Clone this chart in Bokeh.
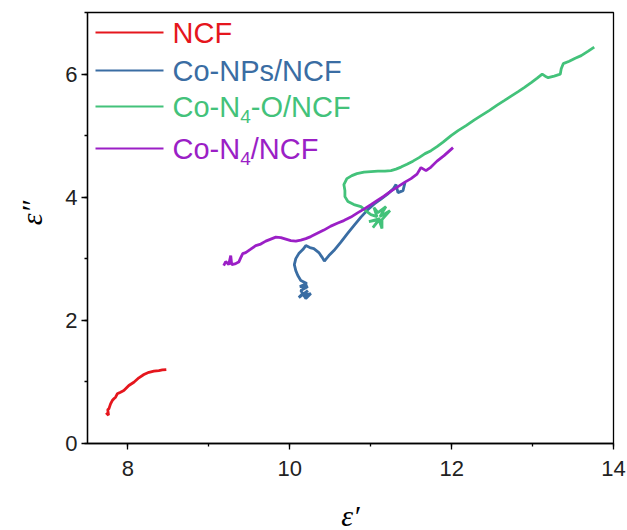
from bokeh.plotting import figure
from bokeh.models import Range1d, SingleIntervalTicker
from bokeh.core.properties import value
from bokeh.embed import file_html
from bokeh.resources import INLINE

# ---- data: complex permittivity (Cole-Cole style) traces ----
ncf_re = [7.73, 7.76, 7.75, 7.764, 7.785, 7.806, 7.826, 7.847, 7.868, 7.908, 7.949,
          8.011, 8.073, 8.135, 8.197, 8.259, 8.321, 8.382, 8.425, 8.474]
ncf_im = [0.50, 0.46, 0.55, 0.563, 0.644, 0.698, 0.726, 0.752, 0.807, 0.833, 0.860,
          0.942, 0.995, 1.067, 1.120, 1.157, 1.174, 1.185, 1.196, 1.201]

conp_re = [10.173, 10.111, 10.223, 10.161, 10.260, 10.198, 10.136, 10.223, 10.124, 10.210,
           10.136, 10.099, 10.074, 10.056, 10.074,
           10.111, 10.161, 10.198, 10.248, 10.297, 10.359, 10.402, 10.427, 10.452, 10.483,
           10.545, 10.631, 10.712, 10.792, 10.879, 10.959, 11.040, 11.126, 11.207, 11.275,
           11.312, 11.337, 11.399, 11.423]
conp_im = [2.451, 2.370, 2.484, 2.403, 2.436, 2.355, 2.485, 2.549, 2.549, 2.597,
           2.646, 2.727, 2.808, 2.906, 3.003,
           3.084, 3.149, 3.214, 3.182, 3.166, 3.101, 3.019, 2.963, 3.003, 3.052,
           3.133, 3.271, 3.409, 3.539, 3.677, 3.791, 3.888, 3.969, 4.050, 4.131,
           4.205, 4.075, 4.107, 4.237]

con4o_re = [11.101, 10.978, 11.114, 11.027, 11.101, 11.139, 11.139, 11.238, 11.114, 11.188,
            11.089, 11.040, 11.077, 11.002, 10.953, 10.879, 10.792, 10.718, 10.681, 10.681,
            10.668, 10.705, 10.767, 10.829, 10.916, 11.002, 11.089, 11.176, 11.250, 11.312,
            11.374, 11.448, 11.522, 11.597, 11.671, 11.745, 11.819, 11.894, 11.993, 12.079,
            12.178, 12.277, 12.364, 12.463, 12.562, 12.649, 12.735, 12.822, 12.896, 12.983,
            13.057, 13.119, 13.156, 13.193, 13.267, 13.342, 13.354, 13.379, 13.453, 13.527,
            13.601, 13.688, 13.762]
con4o_im = [3.636, 3.604, 3.653, 3.506, 3.636, 3.490, 3.636, 3.782, 3.685, 3.847,
            3.750, 3.831, 3.685, 3.718, 3.766, 3.847, 3.880, 3.929, 4.010, 4.107,
            4.205, 4.302, 4.351, 4.383, 4.407, 4.416, 4.424, 4.424, 4.432, 4.456,
            4.489, 4.537, 4.586, 4.643, 4.708, 4.756, 4.821, 4.894, 5.000, 5.081,
            5.162, 5.252, 5.325, 5.406, 5.495, 5.568, 5.641, 5.714, 5.779, 5.860,
            5.933, 5.998, 5.966, 5.942, 5.966, 5.998, 6.088, 6.169, 6.209, 6.258,
            6.299, 6.372, 6.437]

con4_re = [9.183, 9.208, 9.245, 9.270, 9.282, 9.332, 9.369, 9.394, 9.418, 9.455,
           9.517, 9.579, 9.641, 9.703, 9.765, 9.827, 9.889, 9.950, 10.012, 10.074,
           10.136, 10.198, 10.260, 10.334, 10.421, 10.507, 10.594, 10.668, 10.755, 10.842,
           10.916, 11.002, 11.077, 11.163, 11.250, 11.337, 11.423, 11.498, 11.572, 11.621,
           11.683, 11.745, 11.819, 11.906, 12.017]
con4_im = [2.890, 2.955, 2.906, 3.052, 2.906, 2.922, 2.946, 3.019, 3.084, 3.101,
           3.157, 3.214, 3.239, 3.287, 3.320, 3.352, 3.344, 3.320, 3.295, 3.287,
           3.304, 3.328, 3.360, 3.409, 3.466, 3.531, 3.580, 3.620, 3.677, 3.750,
           3.807, 3.880, 3.945, 4.018, 4.099, 4.172, 4.245, 4.302, 4.375, 4.481,
           4.432, 4.489, 4.586, 4.675, 4.805]

RED, BLUE, GREEN, PURPLE = "#e5161d", "#3a6da3", "#43c27a", "#9b1fc6"

# ---- layout ----
X0, X1, Y0, Y1 = 7.5, 14.0, 0.0, 7.0
LEFT, RIGHT, TOP, BOTTOM = 87, 14, 12, 87
FW, FH = 526, 431

p = figure(frame_width=FW, frame_height=FH,
           x_range=Range1d(X0, X1), y_range=Range1d(Y0, Y1),
           min_border_left=LEFT, min_border_right=RIGHT,
           min_border_top=TOP, min_border_bottom=BOTTOM,
           output_backend="svg", toolbar_location=None)

p.background_fill_color = "white"
p.border_fill_color = "white"
p.xgrid.visible = False
p.ygrid.visible = False
p.outline_line_color = "black"
p.outline_line_width = 1.3

p.xaxis.ticker = SingleIntervalTicker(interval=2, num_minor_ticks=2)
p.yaxis.ticker = SingleIntervalTicker(interval=2, num_minor_ticks=2)

for ax in (p.xaxis, p.yaxis):
    ax.axis_line_width = 1.3
    ax.axis_line_color = "black"
    ax.major_tick_line_width = 1.3
    ax.minor_tick_line_width = 1.3
    ax.major_tick_line_color = "black"
    ax.minor_tick_line_color = "black"
    ax.major_tick_in = 0
    ax.major_tick_out = 6
    ax.minor_tick_in = 0
    ax.minor_tick_out = 3
    ax.major_label_text_font = "Liberation Sans"
    ax.major_label_text_font_size = "22px"
    ax.major_label_text_color = "#222222"
    ax.axis_label_text_font = "Liberation Serif"
    ax.axis_label_text_font_style = "italic"
    ax.axis_label_text_font_size = "30px"
    ax.axis_label_text_color = "black"

p.xaxis.axis_label = "\u03b5\u2032"
# leading no-break spaces lift the rotated title a little above the middle
p.yaxis.axis_label = "\u00a0\u00a0\u00a0\u00a0\u03b5\u2033"
p.xaxis.major_label_standoff = 11
p.yaxis.major_label_standoff = 4
p.xaxis.axis_label_standoff = 20
p.yaxis.axis_label_standoff = 14

LW = 2.8
p.line(ncf_re, ncf_im, line_color=RED, line_width=LW)
p.line(conp_re, conp_im, line_color=BLUE, line_width=LW)
p.line(con4o_re, con4o_im, line_color=GREEN, line_width=LW)
p.line(con4_re, con4_im, line_color=PURPLE, line_width=LW)


# ---- legend drawn by hand so the subscripts can be set ----
def dx(px):
    return X0 + (px - LEFT) / FW * (X1 - X0)


def dy(py):
    return Y1 - (py - TOP) / FH * (Y1 - Y0)


# Arial-metric advance widths (em) for the legend characters
ADV = {"C": .722, "o": .556, "-": .333, "N": .722, "P": .667, "s": .5, "/": .278,
       "F": .611, "O": .778, "4": .556}


def width(s, size):
    return sum(ADV[c] for c in s) * size


FS, SUB = 29, 19
line_x0, line_x1, text_x = 95, 163, 172
rows = [
    ([("NCF", False)], RED, 32),
    ([("Co-NPs/NCF", False)], BLUE, 70),
    ([("Co-N", False), ("4", True), ("-O/NCF", False)], GREEN, 106),
    ([("Co-N", False), ("4", True), ("/NCF", False)], PURPLE, 148),
]
for parts, color, ry in rows:
    p.line([dx(line_x0), dx(line_x1)], [dy(ry), dy(ry)], line_color=color, line_width=2.2)
    cx = text_x
    for s, sub in parts:
        size = SUB if sub else FS
        yy = ry + 10 if sub else ry
        p.text(x=[dx(cx)], y=[dy(yy)], text=[s], text_color=color,
               text_font=value("Liberation Sans"), text_font_size=f"{size}px",
               text_baseline="middle", text_align="left")
        cx += width(s, size)

open("out.html", "w").write(file_html(p, INLINE))
